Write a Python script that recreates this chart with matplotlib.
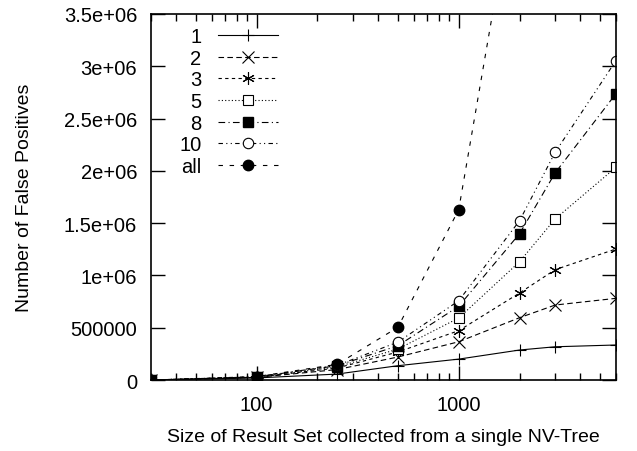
import numpy as np
import matplotlib
matplotlib.use("Agg")
import matplotlib.pyplot as plt
from matplotlib.ticker import FixedLocator, LogLocator, NullFormatter

plt.rcParams['font.family'] = ['Liberation Sans', 'DejaVu Sans']

# result set sizes
x = [30, 100, 250, 500, 1000, 2000, 3000, 6000]

s1 = [0, 20000, 57000, 137000, 200000, 287000, 318000, 335000]
s2 = [0, 25000, 100000, 220000, 366000, 596000, 717000, 781000]
s3 = [0, 27000, 115000, 268000, 472000, 832000, 1055000, 1253000]
s5 = [0, 28000, 125000, 296000, 593000, 1131000, 1540000, 2034000]
s8 = [0, 30000, 137000, 328000, 705000, 1399000, 1980000, 2738000]
s10 = [0, 31000, 140000, 363000, 758000, 1523000, 2177000, 3054000]
s_all = [0, 33000, 150000, 504000, 1629000, 5000000]
x_all = x[:6]

labels = ["1", "2", "3", "5", "8", "10", "all"]

fig = plt.figure(figsize=(6.37, 4.52), dpi=100)
ax = fig.add_axes([0.237, 0.157, 0.730, 0.810])

lw = 0.8
ax.plot(x, s1, color='k', lw=lw, ls='-', marker='+', ms=9, mew=0.8, label=labels[0])
ax.plot(x, s2, color='k', lw=lw, ls=(0, (5, 3)), marker='x', ms=8, mew=0.8, label=labels[1])
ax.plot(x, s3, color='k', lw=lw, ls=(0, (3, 3)), marker=(6, 2, 0), ms=9, mew=0.8, label=labels[2])
ax.plot(x, s5, color='k', lw=lw, ls=(0, (1, 2)), marker='s', ms=7, mfc='white', mew=0.8, label=labels[3])
ax.plot(x, s8, color='k', lw=lw, ls=(0, (6, 3, 1, 3)), marker='s', ms=7.5, mfc='k', label=labels[4])
ax.plot(x, s10, color='k', lw=lw, ls=(0, (4, 3, 1, 3, 1, 3)), marker='o', ms=7.5, mfc='white', mew=0.8, label=labels[5])
ax.plot(x_all, s_all, color='k', lw=lw, ls=(0, (4, 6)), marker='o', ms=7.5, mfc='k', label=labels[6])

ax.set_xscale('log')
ax.set_xlim(30, 6000)
ax.set_ylim(0, 3.5e6)

ax.xaxis.set_major_locator(FixedLocator([100, 1000]))
ax.xaxis.set_major_formatter(matplotlib.ticker.FixedFormatter(["100", "1000"]))
ax.xaxis.set_minor_locator(LogLocator(base=10, subs=np.arange(2, 10)))
ax.xaxis.set_minor_formatter(NullFormatter())

yt = [0, 500000, 1e6, 1.5e6, 2e6, 2.5e6, 3e6, 3.5e6]
ytl = ["0", "500000", "1e+06", "1.5e+06", "2e+06", "2.5e+06", "3e+06", "3.5e+06"]
ax.set_yticks(yt)
ax.set_yticklabels(ytl)

ax.tick_params(which='both', direction='in', top=True, right=True, labelsize=14.5, width=1.0)
ax.tick_params(which='major', length=10)
ax.tick_params(axis='y', which='major', pad=10)
ax.tick_params(axis='x', which='major', pad=11)
ax.tick_params(which='minor', length=5)
for sp in ax.spines.values():
    sp.set_linewidth(1.2)

ax.set_xlabel("Size of Result Set collected from a single NV-Tree", fontsize=14, labelpad=10)
ax.set_ylabel("Number of False Positives", fontsize=14, labelpad=22)

ax.legend(loc='upper left', bbox_to_anchor=(0.035, 0.997), frameon=False, markerfirst=False,
          fontsize=14.5, handlelength=3.0, labelspacing=0.13, borderaxespad=0.2,
          handletextpad=0.8)

fig.savefig("out.png", dpi=100)
